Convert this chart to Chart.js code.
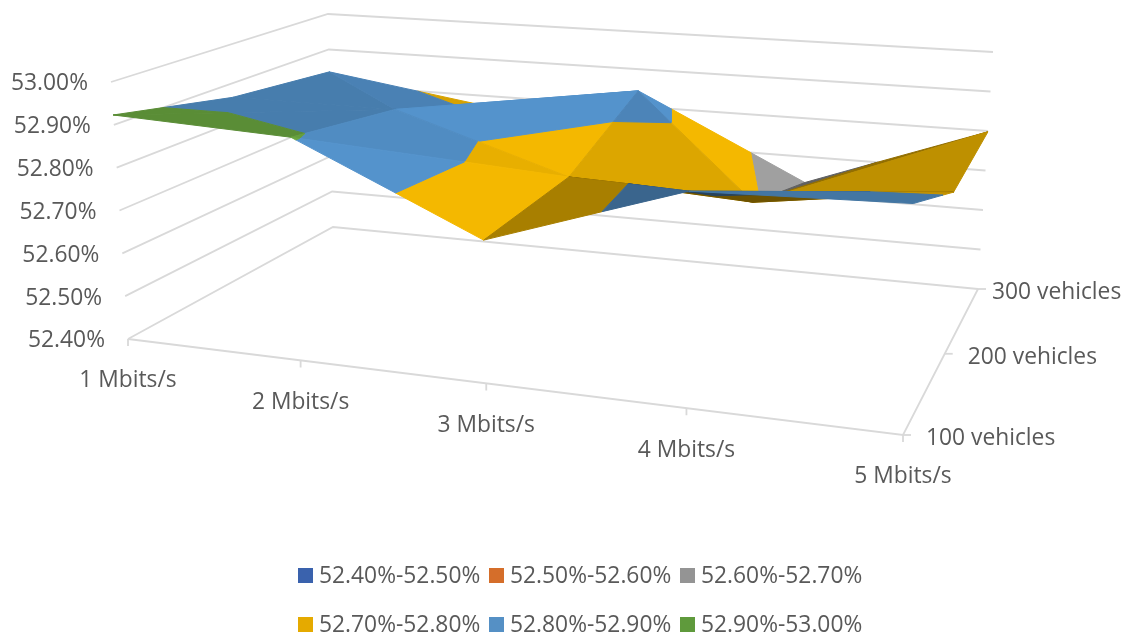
<!DOCTYPE html>
<html>
<head>
<meta charset="utf-8">
<title>Surface chart</title>
<style>
  html, body { margin: 0; padding: 0; background: #fff; }
  #wrap { width: 1128px; height: 634px; }
</style>
<script src="https://cdn.jsdelivr.net/npm/chart.js@4/dist/chart.umd.js"></script>
</head>
<body>
<div id="wrap"><canvas id="c"></canvas></div>
<script>
'use strict';

/* ---- data ---------------------------------------------------------------- */
const rates = ['1 Mbits/s', '2 Mbits/s', '3 Mbits/s', '4 Mbits/s', '5 Mbits/s'];
const fleets = ['100 vehicles', '200 vehicles', '300 vehicles'];
const vehicles100 = [52.923, 52.905, 52.714, 52.86, 52.874];
const vehicles200 = [52.864, 52.864, 52.731, 52.708, 52.77];
const vehicles300 = [52.837, 52.775, 52.842, 52.633, 52.798];
const valueTicks = [52.4, 52.5, 52.6, 52.7, 52.8, 52.9, 53.0];
const bandNames = ['52.40%-52.50%', '52.50%-52.60%', '52.60%-52.70%', '52.70%-52.80%', '52.80%-52.90%', '52.90%-53.00%'];
const bandFill = ['#3a62ad', '#d56e2a', '#a0a0a0', '#f4b800', '#5493cc', '#6aa63f'];
const bandSwatch = ['#3a62ad', '#d56e2a', '#949494', '#e5aa00', '#5590c5', '#5f9a3c'];

/* ---- box geometry: four floor corners, four ceiling corners (front-left,
        front-right, back-right, back-left) ---------------------------------- */
const FLOOR = [[128, 339], [903, 435], [978, 289], [333, 227]];
const CEIL = [[111, 82], [916, 142], [993, 52], [328, 14]];

/* unit square -> quad, standard projective mapping */
function quadMap(q){
  const [[x0,y0],[x1,y1],[x2,y2],[x3,y3]] = q;
  const dx1 = x1-x2, dx2 = x3-x2, sx = x0-x1+x2-x3;
  const dy1 = y1-y2, dy2 = y3-y2, sy = y0-y1+y2-y3;
  const det = dx1*dy2 - dx2*dy1;
  const g = (sx*dy2 - dx2*sy)/det, h = (dx1*sy - sx*dy1)/det;
  const a = x1-x0+g*x1, b = x3-x0+h*x3, d = y1-y0+g*y1, e = y3-y0+h*y3;
  return (u, v) => {
    const k = g*u + h*v + 1;
    return [(a*u + b*v + x0)/k, (d*u + e*v + y0)/k];
  };
}
const floorAt = quadMap(FLOOR), ceilAt = quadMap(CEIL);
const project = (u, v, val) => {
  const t = (val - 52.4)/0.6, p = floorAt(u, v), q = ceilAt(u, v);
  return { x: p[0] + (q[0]-p[0])*t, y: p[1] + (q[1]-p[1])*t };
};

/* ---- surface facets, back to front: [col,row] x3 + lighting factor -------- */
const rows = [vehicles100, vehicles200, vehicles300];
const facets = [
  [[0,1],[1,1],[0,2], 0.85], [[1,1],[1,2],[0,2], 0.88],
  [[1,1],[1,2],[2,2], 0.95], [[1,1],[2,1],[2,2], 1.00],
  [[3,2],[3,1],[2,2], 1.00], [[2,1],[3,1],[2,2], 0.90],
  [[3,1],[3,2],[4,2], 0.60], [[3,1],[4,1],[4,2], 0.78],
  [[0,0],[1,1],[0,1], 0.85], [[0,0],[1,0],[1,1], 0.85],
  [[1,0],[2,1],[1,1], 0.95], [[1,0],[2,0],[2,1], 1.00],
  [[3,0],[3,1],[2,1], 0.45], [[2,0],[3,0],[2,1], 0.69],
  [[3,0],[4,1],[3,1], 0.45], [[3,0],[4,0],[4,1], 0.80],
];

function shade(hex, k){
  const n = parseInt(hex.slice(1), 16);
  const c = [n>>16 & 255, n>>8 & 255, n & 255].map(v => Math.round(v*k));
  return 'rgb(' + c.join(',') + ')';
}
/* keep the part of a polygon on one side of a value level */
function clipLevel(poly, level, keepAbove){
  const out = [];
  poly.forEach((p, i) => {
    const q = poly[(i+1) % poly.length];
    const pIn = keepAbove ? p[2] >= level : p[2] <= level;
    const qIn = keepAbove ? q[2] >= level : q[2] <= level;
    if (pIn) out.push(p);
    if (pIn !== qIn){
      const t = (level - p[2])/(q[2] - p[2]);
      out.push([p[0]+(q[0]-p[0])*t, p[1]+(q[1]-p[1])*t, level]);
    }
  });
  return out;
}

/* ---- datasets ------------------------------------------------------------ */
const datasets = [];
const gridLine = (pts) => datasets.push({ data: pts, showLine: true, borderColor: '#d9d9d9', borderWidth: 1.8, pointRadius: 0, fill: false });

valueTicks.forEach(val => {
  gridLine([project(0, 0, val), project(0, 1, val), project(1, 1, val)]);
});
gridLine([project(0, 0, 52.4), project(1, 0, 52.4), project(1, 1, 52.4)]);
const xTicks = rates.map((_, i) => project(i/4, 0, 52.4));
const zTicks = fleets.map((_, j) => project(1, j/2, 52.4));
xTicks.forEach(p => gridLine([p, { x: p.x, y: p.y + 7 }]));
zTicks.forEach(p => gridLine([p, { x: p.x + 8, y: p.y }]));

facets.forEach(f => {
  const tri = f.slice(0, 3).map(([c, r]) => [c/4, r/2, rows[r][c]]);
  bandFill.forEach((col, b) => {
    let poly = clipLevel(tri, valueTicks[b], true);
    if (poly.length) poly = clipLevel(poly, valueTicks[b+1], false);
    if (poly.length < 3) return;
    const pts = poly.map(p => project(p[0], p[1], p[2]));
    pts.push(pts[0]);
    const fillCol = shade(col, f[3]);
    datasets.push({ data: pts, showLine: true, fill: 'shape', backgroundColor: fillCol, borderColor: fillCol, borderWidth: 1, pointRadius: 0 });
  });
});
// first dataset is painted last by Chart.js, so flip the stacking
datasets.forEach((d, i) => { d.order = datasets.length - i; d.clip = false; });

/* ---- text: axis labels and legend ---------------------------------------- */
const FONT = '22.8px "Open Sans"', INK = '#595959';
const fleetDx = [23, 23, 14];
const textLayer = {
  id: 'textLayer',
  afterDraw(chart){
    const { ctx, scales: { x, y } } = chart;
    ctx.save();
    ctx.font = FONT; ctx.fillStyle = INK; ctx.textBaseline = 'middle';
    ctx.textAlign = 'right';
    valueTicks.forEach(val => {
      const p = project(0, 0, val);
      ctx.fillText(val.toFixed(2) + '%', x.getPixelForValue(p.x) - 23, y.getPixelForValue(p.y) + 2);
    });
    ctx.textAlign = 'center';
    rates.forEach((r, i) => ctx.fillText(r, x.getPixelForValue(xTicks[i].x), y.getPixelForValue(xTicks[i].y) + 42));
    ctx.textAlign = 'left';
    fleets.forEach((s, j) => ctx.fillText(s, x.getPixelForValue(zTicks[j].x) + fleetDx[j], y.getPixelForValue(zTicks[j].y) + 4));
    bandNames.forEach((name, b) => {
      const lx = 298 + 191*(b % 3), top = b < 3 ? 568 : 617;
      ctx.fillStyle = bandSwatch[b];
      ctx.fillRect(lx, top, 15, 15);
      ctx.fillStyle = INK;
      ctx.fillText(name, lx + 21, top + 9);
    });
    ctx.restore();
  },
};

new Chart(document.getElementById('c'), {
  type: 'scatter',
  data: { datasets },
  plugins: [textLayer],
  options: {
    responsive: true, maintainAspectRatio: false, animation: false,
    events: [],
    layout: { padding: 0 },
    scales: {
      x: { type: 'linear', display: false, min: 0, max: 1128 },
      y: { type: 'linear', display: false, min: 0, max: 634, reverse: true },
    },
    plugins: { legend: { display: false }, tooltip: { enabled: false } },
  },
});
</script>
</body>
</html>
